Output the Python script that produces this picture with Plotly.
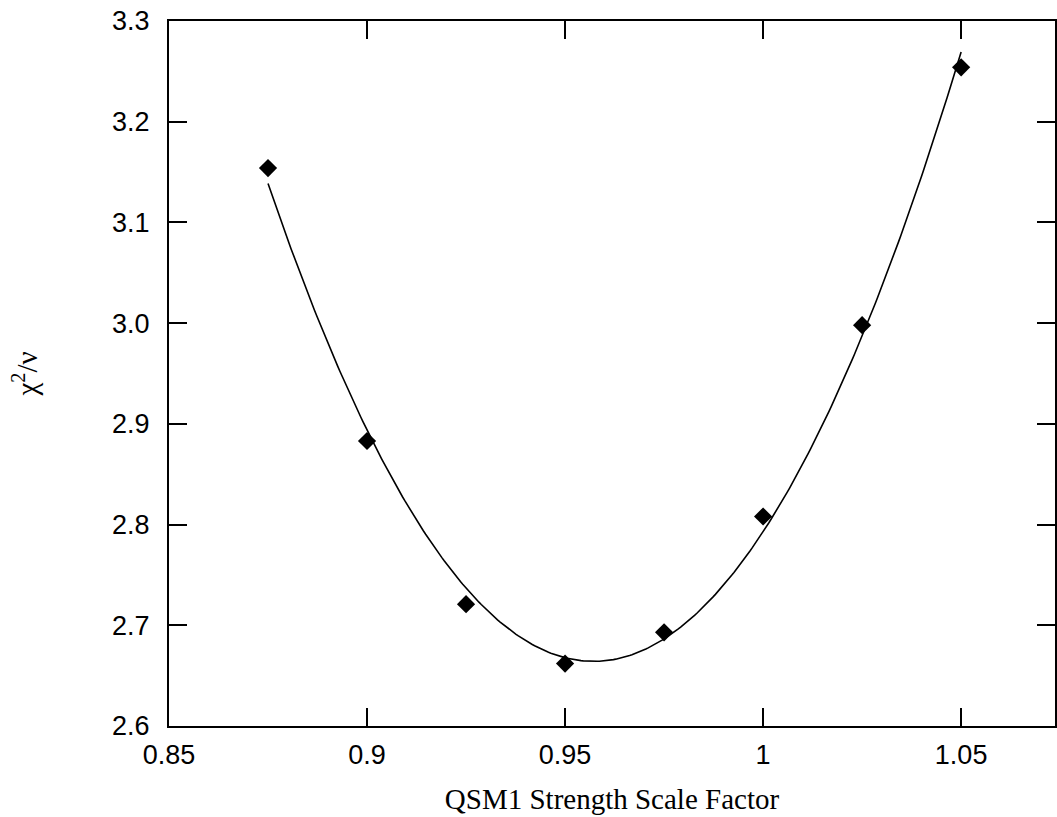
import numpy as np
import plotly.graph_objects as go

scale_factor = [0.875, 0.900, 0.925, 0.950, 0.975, 1.000, 1.025, 1.050]
chi2_nu = [3.154, 2.883, 2.721, 2.662, 2.693, 2.808, 2.998, 3.254]
x_ticks = [0.85, 0.9, 0.95, 1.0, 1.05]
x_tick_text = ["0.85", "0.9", "0.95", "1", "1.05"]
y_ticks = [2.6, 2.7, 2.8, 2.9, 3.0, 3.1, 3.2, 3.3]
y_tick_text = ["2.6", "2.7", "2.8", "2.9", "3.0", "3.1", "3.2", "3.3"]

# fitted curve through the measured points (least-squares parabola)
coef = np.polyfit(scale_factor, chi2_nu, 2)
fit_x = np.linspace(min(scale_factor), max(scale_factor), 300)
fit_y = np.polyval(coef, fit_x)

fig = go.Figure()
fig.add_trace(go.Scatter(x=fit_x, y=fit_y, mode="lines",
                         line=dict(color="black", width=1.6), hoverinfo="skip"))
fig.add_trace(go.Scatter(x=scale_factor, y=chi2_nu, mode="markers",
                         marker=dict(symbol="diamond", size=14, color="black")))

axis_common = dict(showgrid=False, zeroline=False, showline=True, linecolor="black",
                   linewidth=2, ticks="inside", ticklen=18, tickwidth=1.5,
                   tickcolor="black", mirror="ticks",
                   tickfont=dict(family="Liberation Sans, Arial, sans-serif", size=27, color="black"))

fig.update_layout(
    width=1057, height=817,
    margin=dict(l=169, r=0, t=21, b=91),
    plot_bgcolor="white", paper_bgcolor="white",
    showlegend=False,
    xaxis=dict(range=[0.85, 1.0737], tickvals=x_ticks, ticktext=x_tick_text,
               ticklabelstandoff=4,
               title=dict(text="QSM1 Strength Scale Factor", standoff=19,
                          font=dict(family="Liberation Serif, Times New Roman, serif", size=29, color="black")),
               **axis_common),
    yaxis=dict(range=[2.6, 3.3], tickvals=y_ticks, ticktext=y_tick_text,
               ticklabelstandoff=12,
               title=dict(text="χ<sup>2</sup>/ν", standoff=66,
                          font=dict(family="Liberation Serif, Times New Roman, serif", size=29, color="black")),
               **axis_common),
)

fig.write_html("out.html")
